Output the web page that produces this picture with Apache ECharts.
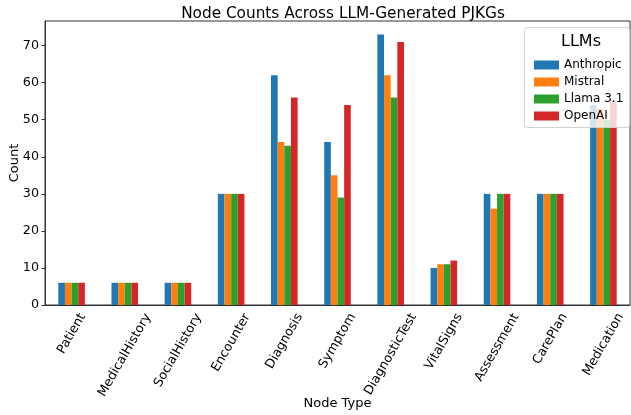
<!DOCTYPE html>
<html>
<head>
<meta charset="utf-8">
<script src="https://cdn.jsdelivr.net/npm/echarts@6/dist/echarts.min.js"></script>
<style>
  html, body { margin: 0; padding: 0; background: #fff; }
  #chart { width: 631px; height: 415px; }
</style>
</head>
<body>
<div id="chart"></div>
<script>
const nodeTypes = ["Patient", "MedicalHistory", "SocialHistory", "Encounter", "Diagnosis",
  "Symptom", "DiagnosticTest", "VitalSigns", "Assessment", "CarePlan", "Medication"];
const llms = ["Anthropic", "Mistral", "Llama 3.1", "OpenAI"];
const anthropic = [6, 6, 6, 30, 62, 44, 73, 10, 30, 30, 54];
const mistral = [6, 6, 6, 30, 44, 35, 62, 11, 26, 30, 53];
const llama = [6, 6, 6, 30, 43, 29, 56, 11, 30, 30, 50];
const openai = [6, 6, 6, 30, 56, 54, 71, 12, 30, 30, 55];
const colors = ["#1f77b4", "#ff7f0e", "#2ca02c", "#d62728"];

const font = "DejaVu Sans";
const tickFont = 12.7;
const chart = echarts.init(document.getElementById("chart"));

const seriesData = [anthropic, mistral, llama, openai];

const legendBox = {
  type: "rect", z: 3,
  shape: { x: 524.5, y: 27.5, width: 105, height: 100, r: 3 },
  style: { fill: "rgba(255,255,255,0.8)", stroke: "#d0d0d0", lineWidth: 1 }
};

chart.setOption({
  animation: false,
  color: colors,
  textStyle: { fontFamily: font },
  title: [
    {
      text: "Node Counts Across LLM-Generated PJKGs",
      left: 338, top: 2, textAlign: "center",
      textStyle: { fontSize: 15.3, fontWeight: "normal", color: "#000", fontFamily: font }
    },
    {
      text: "LLMs",
      left: 576, top: 29, textAlign: "center", z: 6,
      textStyle: { fontSize: 16, fontWeight: "normal", color: "#000", fontFamily: font }
    }
  ],
  graphic: [legendBox],
  legend: {
    data: llms,
    orient: "vertical",
    left: 529, top: 54, z: 5,
    icon: "rect",
    itemWidth: 25, itemHeight: 9, itemGap: 5,
    textStyle: { fontSize: 12, color: "#000", fontFamily: font }
  },
  grid: {
    left: 45, right: 1, top: 21, bottom: 110,
    containLabel: false, outerBoundsMode: "none",
    show: true, borderColor: "#333", borderWidth: 1
  },
  xAxis: {
    type: "category",
    data: nodeTypes,
    name: "Node Type",
    nameLocation: "middle",
    nameGap: 92,
    nameMoveOverlap: false,
    nameTextStyle: { fontSize: 13, color: "#000", fontFamily: font },
    axisLine: { lineStyle: { color: "#333" } },
    axisTick: { alignWithLabel: true, length: 3.5, lineStyle: { color: "#333" } },
    axisLabel: { show: false }
  },
  yAxis: {
    type: "value",
    min: 0, max: 76.65, interval: 10,
    name: "Count",
    nameLocation: "middle",
    nameGap: 24,
    nameMoveOverlap: false,
    nameTextStyle: { fontSize: 13, color: "#000", fontFamily: font },
    axisLine: { show: true, lineStyle: { color: "#333" } },
    axisTick: { show: true, length: 3.5, lineStyle: { color: "#333" } },
    axisLabel: { fontSize: tickFont, color: "#000", margin: 6, showMaxLabel: false, fontFamily: font },
    splitLine: { show: false }
  },
  series: llms.map((name, i) => ({
    name: name,
    type: "bar",
    data: seriesData[i],
    barGap: "0%",
    barCategoryGap: "50%",
    itemStyle: { color: colors[i] }
  }))
});

// x tick labels rotated 60deg around their centre, like matplotlib's ha="center"
const ctx = document.createElement("canvas").getContext("2d");
ctx.font = tickFont + "px " + font;
const labelTop = 311;
const angle = Math.PI / 3;
const tickLabels = nodeTypes.map((name) => {
  const w = ctx.measureText(name).width;
  const h = tickFont * 1.1;
  const boxH = w * Math.sin(angle) + h * Math.cos(angle);
  const x = chart.convertToPixel({ xAxisIndex: 0 }, name);
  return {
    type: "text",
    x: x,
    y: labelTop + boxH / 2,
    rotation: angle,
    style: {
      text: name,
      fontSize: tickFont,
      fontFamily: font,
      fill: "#000",
      align: "center",
      verticalAlign: "middle"
    }
  };
});
chart.setOption({ graphic: [legendBox].concat(tickLabels) }, { replaceMerge: ["graphic"] });

window.addEventListener("resize", () => {
  chart.resize();
});
</script>
</body>
</html>
